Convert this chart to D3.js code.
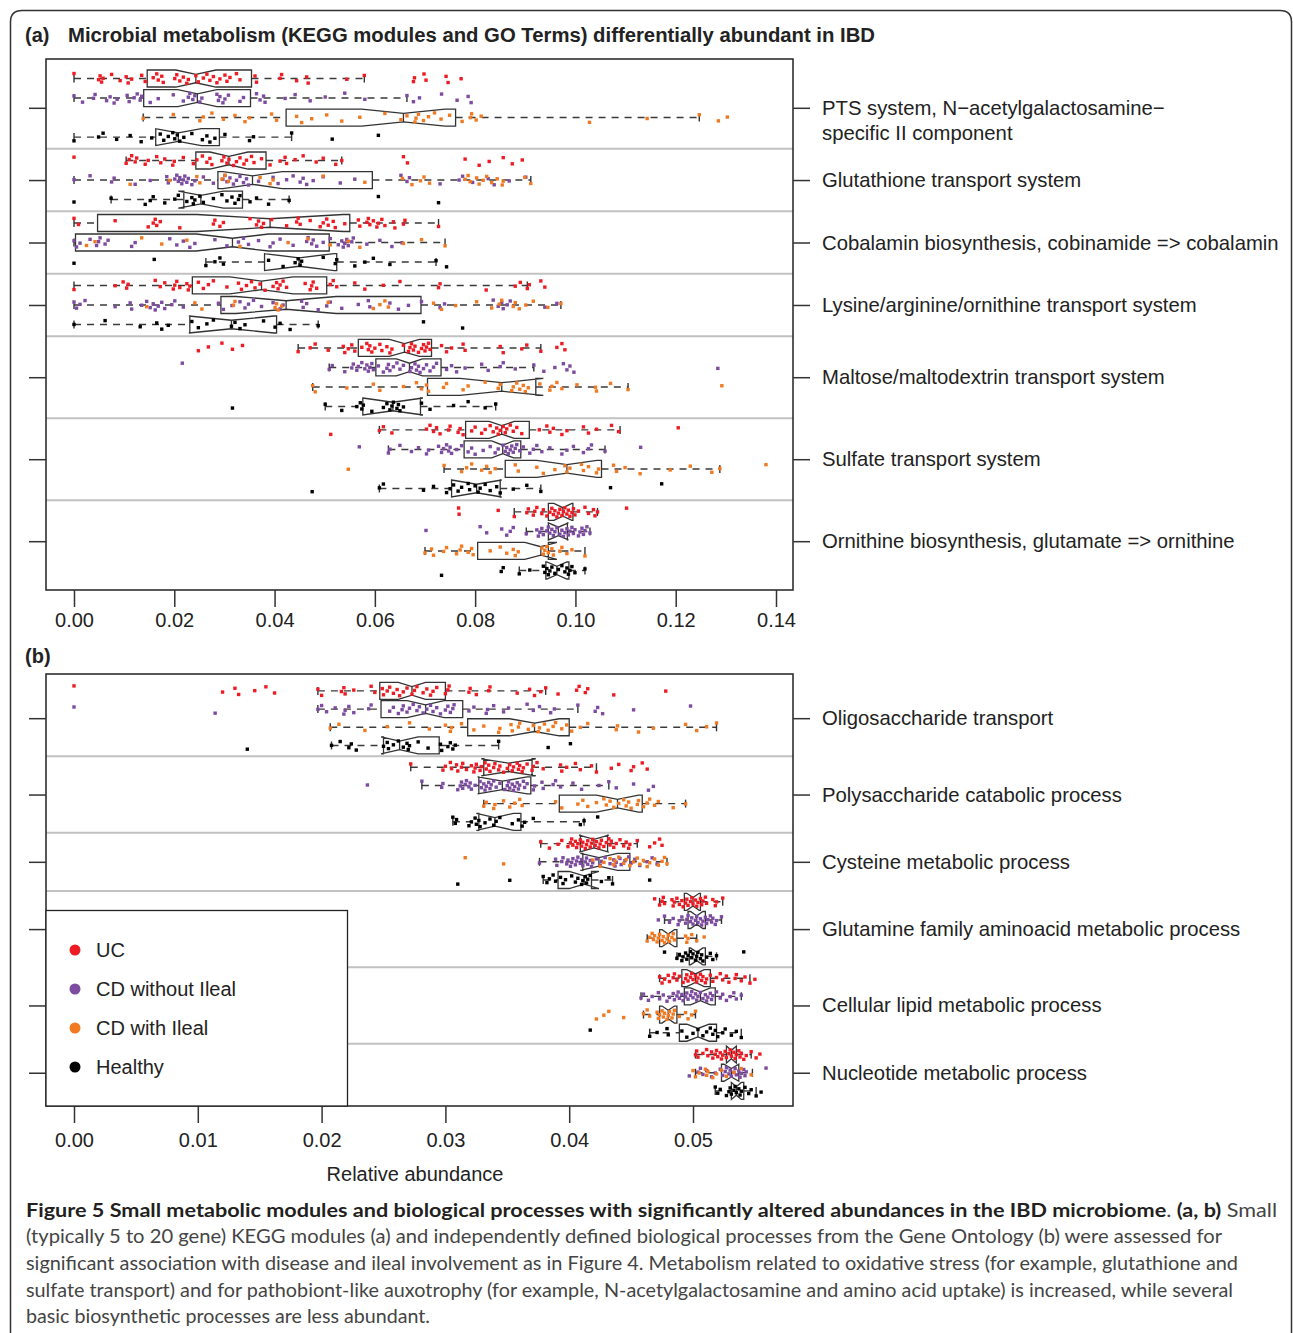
<!DOCTYPE html>
<html>
<head>
<meta charset="utf-8">
<script src="https://cdn.jsdelivr.net/npm/d3@7"></script>
<style>
  body { margin: 0; background: #fff; }
  svg text { font-family: "Liberation Sans", Arial, Helvetica, sans-serif; }
</style>
</head>
<body>
<svg id="fig" width="1293" height="1333"></svg>
<script>
// Cohorts (legend order)
const cohorts = ["UC", "CD without Ileal", "CD with Ileal", "Healthy"];

// ---------- Panel (a): KEGG modules ----------
const modulesA = [
  "PTS system, N\u2212acetylgalactosamine\u2212\nspecific II component",
  "Glutathione transport system",
  "Cobalamin biosynthesis, cobinamide => cobalamin",
  "Lysine/arginine/ornithine transport system",
  "Maltose/maltodextrin transport system",
  "Sulfate transport system",
  "Ornithine biosynthesis, glutamate => ornithine"
];
const ticksA = [0, 0.02, 0.04, 0.06, 0.08, 0.10, 0.12, 0.14];
// [module, cohorts drawn in the row]
const rowsA = [
  [0, [0]], [0, [1]], [0, [2]], [0, [3]],
  [1, [0]], [1, [1, 2]], [1, [3]],
  [2, [0]], [2, [1, 2]], [2, [3]],
  [3, [0]], [3, [1, 2]], [3, [3]],
  [4, [0]], [4, [1]], [4, [2]], [4, [3]],
  [5, [0]], [5, [1]], [5, [2]], [5, [3]],
  [6, [0]], [6, [1]], [6, [2]], [6, [3]]
];
// [whisker low, Q1, median, Q3, whisker high, notch half-width]
const boxesA = [
  [0.0, 0.0146, 0.0243, 0.0354, 0.0579, 0.0040],
  [0.0, 0.0139, 0.0246, 0.0352, 0.0664, 0.0039],
  [0.0138, 0.0423, 0.0657, 0.0761, 0.1247, 0.0083],
  [0.0, 0.0163, 0.0208, 0.0290, 0.0434, 0.0046],
  [0.0104, 0.0243, 0.0309, 0.0383, 0.0534, 0.0038],
  [0.0, 0.0287, 0.0356, 0.0595, 0.0911, 0.0059],
  [0.0074, 0.0219, 0.0253, 0.0336, 0.0429, 0.0045],
  [0.0, 0.0047, 0.0391, 0.0550, 0.0727, 0.0146],
  [0.0, 0.0003, 0.0316, 0.0509, 0.0740, 0.0072],
  [0.0263, 0.0380, 0.0449, 0.0524, 0.0722, 0.0070],
  [0.0, 0.0236, 0.0374, 0.0504, 0.0904, 0.0063],
  [0.0, 0.0293, 0.0423, 0.0692, 0.0971, 0.0100],
  [0.0, 0.0231, 0.0314, 0.0404, 0.0487, 0.0085],
  [0.0447, 0.0567, 0.0659, 0.0713, 0.0931, 0.0030],
  [0.0509, 0.0602, 0.0669, 0.0732, 0.0917, 0.0026],
  [0.0476, 0.0705, 0.0853, 0.0921, 0.1105, 0.0083],
  [0.0501, 0.0576, 0.0636, 0.0691, 0.0841, 0.0060],
  [0.0609, 0.0781, 0.0853, 0.0908, 0.1089, 0.0025],
  [0.0627, 0.0778, 0.0855, 0.0891, 0.1059, 0.0022],
  [0.0738, 0.0860, 0.0983, 0.1052, 0.1288, 0.0060],
  [0.0609, 0.0753, 0.0803, 0.0850, 0.0931, 0.0050],
  [0.0878, 0.0946, 0.0975, 0.0995, 0.1044, 0.0018],
  [0.0902, 0.0946, 0.0966, 0.0984, 0.1029, 0.0020],
  [0.0700, 0.0805, 0.0931, 0.0946, 0.1019, 0.0032],
  [0.0888, 0.0941, 0.0963, 0.0987, 0.1019, 0.0020]
];
// sample values per row, one list per cohort in the row
const pointsA = [
  [[0,0.0049,0.0052,0.0055,0.0058,0.0075,0.0092,0.0104,0.0108,0.0115,0.0135,0.0142,0.0158,0.0165,0.0168,0.0175,0.0178,0.0201,0.0205,0.0211,0.0218,0.0225,0.0228,0.0243,0.0248,0.0258,0.0265,0.0271,0.0278,0.0285,0.0291,0.0301,0.0305,0.0311,0.0324,0.0331,0.0361,0.0364,0.0411,0.0414,0.0444,0.0464,0.0467,0.0544,0.0579,0.0677,0.0679,0.0698,0.0702,0.0742,0.0746,0.0772]],
  [[0,0.0017,0.0039,0.0042,0.0065,0.0072,0.008,0.0086,0.0106,0.011,0.012,0.0126,0.0132,0.0135,0.0152,0.0168,0.0198,0.0218,0.0228,0.0231,0.0237,0.0241,0.0251,0.0255,0.0285,0.0288,0.0291,0.0297,0.0301,0.0308,0.0331,0.0338,0.0364,0.0371,0.0378,0.0381,0.0421,0.0441,0.0471,0.0501,0.054,0.058,0.0664,0.0677,0.0689,0.0733,0.0764,0.0786,0.0792]],
  [[0.0138,0.0198,0.0251,0.0258,0.0275,0.0298,0.0321,0.0341,0.035,0.0394,0.0404,0.0444,0.0454,0.0474,0.0504,0.0534,0.057,0.062,0.0652,0.0664,0.068,0.0682,0.0687,0.0697,0.0707,0.0719,0.0732,0.0749,0.0774,0.0791,0.0793,0.0802,0.0812,0.1028,0.1143,0.1247,0.1285,0.1303]],
  [[0,0.0049,0.0058,0.0085,0.0112,0.0134,0.0155,0.0172,0.0179,0.0188,0.0197,0.0201,0.0206,0.0211,0.0219,0.0235,0.0256,0.0265,0.0271,0.0281,0.0301,0.035,0.0358,0.0434,0.0515,0.0607]],
  [[0,0.0104,0.011,0.0115,0.0122,0.0125,0.0142,0.0148,0.0165,0.0173,0.0181,0.0197,0.02,0.0218,0.0238,0.0245,0.0256,0.0265,0.0271,0.0275,0.0295,0.0299,0.0305,0.0309,0.0318,0.0324,0.0331,0.0339,0.0344,0.0354,0.0359,0.0374,0.0391,0.0411,0.0421,0.0424,0.0441,0.0457,0.0483,0.0497,0.0522,0.0534,0.0657,0.0665,0.078,0.0808,0.0828,0.0856,0.0874,0.0894]],
  [[0,0.0032,0.0075,0.008,0.0122,0.0152,0.0185,0.0188,0.0201,0.0205,0.0208,0.0211,0.0215,0.0218,0.0221,0.0225,0.0228,0.0235,0.0241,0.0258,0.0278,0.0297,0.0301,0.0305,0.0311,0.0318,0.0324,0.0331,0.0338,0.0344,0.0348,0.0368,0.0397,0.0407,0.0424,0.0437,0.0451,0.0457,0.0464,0.0477,0.0497,0.0531,0.056,0.0652,0.0664,0.0669,0.073,0.0768,0.0775,0.0795,0.0826,0.0838,0.0868,0.0901],
   [0.0112,0.0191,0.0245,0.0251,0.0295,0.0301,0.0308,0.0371,0.0391,0.0397,0.0497,0.058,0.0655,0.0674,0.0691,0.0698,0.0709,0.078,0.0786,0.079,0.0803,0.0808,0.0816,0.0823,0.0833,0.0844,0.0854,0.0856,0.0899,0.0911]],
  [[0,0.0074,0.0142,0.0152,0.0158,0.0181,0.0201,0.0208,0.0225,0.0235,0.0238,0.0241,0.0251,0.0258,0.0278,0.0295,0.0305,0.0315,0.0321,0.0328,0.0331,0.0351,0.0364,0.0388,0.0429,0.0607,0.0727]],
  [[0,0.0009,0.0082,0.0148,0.0158,0.0162,0.0165,0.0172,0.0211,0.0278,0.0281,0.0291,0.0298,0.0351,0.0364,0.0368,0.0374,0.0378,0.0394,0.0424,0.0444,0.0447,0.0451,0.0471,0.0491,0.0497,0.0504,0.0507,0.0517,0.0521,0.054,0.0567,0.057,0.0584,0.0587,0.059,0.0597,0.0604,0.0607,0.0614,0.062,0.0637,0.064,0.0657,0.066,0.0727]],
  [[0,0.0005,0.0012,0.0032,0.0045,0.0049,0.0052,0.0062,0.0068,0.0115,0.0122,0.0191,0.0205,0.0218,0.0231,0.0241,0.0281,0.0305,0.0328,0.0338,0.0348,0.0368,0.0391,0.0397,0.0411,0.0437,0.0464,0.0467,0.0474,0.0477,0.0484,0.0497,0.0511,0.0527,0.0534,0.0537,0.054,0.0544,0.0547,0.0554,0.0557,0.0584,0.061,0.0634,0.0654],
   [0.0025,0.0042,0.0135,0.0175,0.0225,0.0331,0.0427,0.0467,0.0511,0.0547,0.057,0.0657,0.0693,0.074]],
  [[0,0.016,0.0263,0.0281,0.0291,0.0298,0.0388,0.0417,0.0441,0.0447,0.0451,0.0454,0.0497,0.0521,0.0524,0.056,0.058,0.0597,0.063,0.0722,0.0743]],
  [[0,0.0082,0.0098,0.0105,0.0108,0.0162,0.0172,0.0181,0.0198,0.0201,0.0205,0.0211,0.0225,0.0228,0.0231,0.0248,0.0258,0.0268,0.0278,0.0305,0.0328,0.0334,0.0344,0.0354,0.0361,0.0371,0.0381,0.0397,0.0404,0.0407,0.0411,0.0417,0.0424,0.0461,0.0471,0.0474,0.0477,0.0484,0.0511,0.0517,0.0524,0.056,0.058,0.0617,0.065,0.0727,0.073,0.0822,0.088,0.089,0.0904,0.0908,0.0931,0.0939]],
  [[0,0.0005,0.0012,0.0022,0.0082,0.0112,0.0115,0.0135,0.0145,0.0152,0.0158,0.0162,0.0168,0.0175,0.0181,0.0195,0.0201,0.0218,0.0288,0.0298,0.0315,0.0331,0.0341,0.0348,0.0358,0.0374,0.0397,0.0411,0.0417,0.0454,0.0457,0.0464,0.0487,0.0504,0.0511,0.0534,0.0567,0.0587,0.059,0.063,0.0647,0.0667,0.0693,0.073,0.0739,0.0836,0.0846,0.0853,0.0856,0.0864,0.087,0.0939,0.0963],
   [0.0145,0.0241,0.0255,0.0318,0.0321,0.0401,0.0404,0.0407,0.0414,0.0507,0.0597,0.061,0.062,0.0627,0.0717,0.0733,0.0761,0.0803,0.0833,0.0848,0.0853,0.0876,0.088,0.0888,0.0901,0.0916,0.0945,0.0971]],
  [[0,0.0062,0.0132,0.0165,0.0175,0.0188,0.0235,0.0248,0.0265,0.0278,0.0314,0.0321,0.0331,0.0341,0.0378,0.0401,0.0411,0.0431,0.0487,0.0697,0.0775]],
  [[0.0248,0.0268,0.0295,0.0316,0.0336,0.0447,0.0471,0.0481,0.0507,0.0537,0.054,0.0547,0.0554,0.056,0.0574,0.0584,0.0587,0.059,0.0594,0.06,0.061,0.0614,0.0624,0.063,0.0634,0.0657,0.0667,0.067,0.0673,0.0677,0.068,0.0687,0.0693,0.0697,0.07,0.0703,0.0707,0.071,0.0733,0.0743,0.0753,0.0776,0.078,0.085,0.0856,0.0893,0.0903,0.0931,0.0963,0.0973,0.0979]],
  [[0.0216,0.0509,0.0515,0.054,0.0554,0.0557,0.0564,0.0567,0.0574,0.058,0.0584,0.0587,0.059,0.0594,0.0597,0.0607,0.0617,0.0624,0.0627,0.063,0.0637,0.0644,0.065,0.0657,0.067,0.0673,0.068,0.0683,0.0687,0.069,0.0697,0.0703,0.071,0.0717,0.0723,0.0743,0.0753,0.0763,0.078,0.0813,0.0826,0.085,0.0856,0.088,0.0917,0.0937,0.0959,0.0976,0.0983,0.0989,0.0997,0.1284]],
  [[0.0476,0.0481,0.0544,0.0597,0.061,0.0657,0.0683,0.0693,0.0703,0.0707,0.0737,0.0743,0.0776,0.0786,0.082,0.0846,0.085,0.0873,0.0876,0.0883,0.0889,0.0896,0.09,0.0906,0.0929,0.0949,0.0953,0.0963,0.0973,0.1003,0.1042,0.104,0.107,0.1105,0.1292]],
  [[0.0316,0.0501,0.0534,0.0564,0.0571,0.0574,0.0577,0.0594,0.0617,0.0624,0.063,0.0634,0.0637,0.0644,0.0647,0.065,0.0657,0.0693,0.071,0.0757,0.0786,0.082,0.0841]],
  [[0.0512,0.0609,0.0617,0.0634,0.0703,0.071,0.0717,0.0723,0.073,0.0747,0.075,0.0766,0.077,0.0776,0.0793,0.08,0.0813,0.082,0.083,0.0836,0.0843,0.0846,0.085,0.0856,0.086,0.0863,0.087,0.0876,0.0883,0.0893,0.0928,0.0943,0.0949,0.0956,0.0973,0.0983,0.1016,0.1026,0.1042,0.1072,0.1086,0.1205]],
  [[0.0569,0.0627,0.063,0.065,0.0673,0.0687,0.0703,0.0707,0.0727,0.0733,0.0737,0.0743,0.0747,0.075,0.0753,0.0763,0.0773,0.0786,0.0793,0.08,0.0816,0.083,0.084,0.0846,0.0856,0.086,0.0863,0.0866,0.087,0.0873,0.0876,0.088,0.0883,0.0889,0.0896,0.0909,0.0916,0.0923,0.0933,0.0949,0.0973,0.0983,0.0996,0.1016,0.1026,0.1032,0.1059,0.113]],
  [[0.0547,0.0738,0.0773,0.0783,0.0793,0.0813,0.0823,0.083,0.084,0.088,0.0886,0.0923,0.0936,0.0959,0.0979,0.0983,0.0989,0.1012,0.1016,0.1026,0.1042,0.1046,0.1076,0.1082,0.1099,0.1129,0.1189,0.1229,0.1272,0.1288,0.138]],
  [[0.0475,0.0609,0.0617,0.0697,0.0717,0.0743,0.075,0.0757,0.0766,0.0773,0.0786,0.0789,0.08,0.0806,0.081,0.082,0.083,0.0843,0.085,0.0876,0.0903,0.0931,0.107,0.1172]],
  [[0.0767,0.0768,0.0846,0.0878,0.0903,0.0906,0.0916,0.0919,0.0923,0.0933,0.0936,0.0943,0.0949,0.0953,0.0956,0.0959,0.0963,0.0966,0.0969,0.0973,0.0976,0.0979,0.0983,0.0986,0.0989,0.0993,0.0996,0.0999,0.1006,0.1019,0.1026,0.1036,0.1039,0.1044,0.1102]],
  [[0.0702,0.081,0.0823,0.0853,0.0863,0.087,0.0876,0.0902,0.0923,0.0926,0.0929,0.0933,0.0936,0.0943,0.0946,0.0949,0.0953,0.0956,0.0959,0.0963,0.0969,0.0973,0.0976,0.0979,0.0983,0.0986,0.0989,0.0993,0.0996,0.0999,0.1006,0.1009,0.1013,0.1016,0.1019,0.1023,0.1029]],
  [[0.07,0.0713,0.0717,0.0737,0.0743,0.0763,0.077,0.0773,0.0786,0.0793,0.0796,0.083,0.085,0.0863,0.0876,0.088,0.0886,0.0933,0.0936,0.0939,0.0943,0.0946,0.0953,0.0956,0.0969,0.0973,0.0983,0.0993,0.1019]],
  [[0.0733,0.0852,0.0856,0.0888,0.0909,0.0936,0.0939,0.0943,0.0946,0.0949,0.0953,0.0959,0.0966,0.0973,0.0979,0.0983,0.0986,0.0989,0.0993,0.0999,0.1019]]
];

// ---------- Panel (b): GO terms ----------
const modulesB = [
  "Oligosaccharide transport",
  "Polysaccharide catabolic process",
  "Cysteine metabolic process",
  "Glutamine family aminoacid metabolic process",
  "Cellular lipid metabolic process",
  "Nucleotide metabolic process"
];
const ticksB = [0, 0.01, 0.02, 0.03, 0.04, 0.05];
const rowsB = [
  [0, [0]], [0, [1]], [0, [2]], [0, [3]],
  [1, [0]], [1, [1]], [1, [2]], [1, [3]],
  [2, [0]], [2, [1, 2]], [2, [3]],
  [3, [0]], [3, [1]], [3, [2]], [3, [3]],
  [4, [0]], [4, [1]], [4, [2]], [4, [3]],
  [5, [0]], [5, [1, 2]], [5, [3]]
];
const boxesB = [
  [0.0197, 0.0247, 0.0273, 0.0300, 0.0381, 0.0011],
  [0.0197, 0.0248, 0.0284, 0.0314, 0.0407, 0.0015],
  [0.0207, 0.0318, 0.0372, 0.0400, 0.0519, 0.0020],
  [0.0208, 0.0250, 0.0263, 0.0295, 0.0343, 0.0015],
  [0.0272, 0.0331, 0.0351, 0.0370, 0.0422, 0.0022],
  [0.0281, 0.0327, 0.0346, 0.0369, 0.0432, 0.0020],
  [0.0331, 0.0392, 0.0439, 0.0459, 0.0494, 0.0017],
  [0.0306, 0.0327, 0.0340, 0.0361, 0.0412, 0.0015],
  [0.0377, 0.0409, 0.0420, 0.0431, 0.0455, 0.0012],
  [0.0376, 0.0411, 0.0424, 0.0449, 0.0479, 0.0015],
  [0.0379, 0.0391, 0.0412, 0.0418, 0.0435, 0.0012],
  [0.0473, 0.0493, 0.0500, 0.0506, 0.0524, 0.0005],
  [0.0477, 0.0496, 0.0503, 0.0510, 0.0523, 0.0005],
  [0.0463, 0.0473, 0.0480, 0.0487, 0.0503, 0.0005],
  [0.0487, 0.0497, 0.0503, 0.0510, 0.0519, 0.0005],
  [0.0473, 0.0491, 0.0502, 0.0514, 0.0546, 0.0007],
  [0.0458, 0.0493, 0.0506, 0.0518, 0.0539, 0.0008],
  [0.0460, 0.0473, 0.0480, 0.0487, 0.0502, 0.0005],
  [0.0465, 0.0489, 0.0504, 0.0519, 0.0539, 0.0009],
  [0.0502, 0.0527, 0.0531, 0.0535, 0.0547, 0.0004],
  [0.0502, 0.0523, 0.0531, 0.0537, 0.0548, 0.0006],
  [0.0518, 0.0531, 0.0535, 0.0541, 0.0551, 0.0004]
];
const pointsB = [
  [[0,0.012,0.013,0.0133,0.0146,0.0155,0.0162,0.0197,0.02,0.0216,0.0218,0.0219,0.0226,0.024,0.0243,0.0249,0.025,0.0253,0.0255,0.0258,0.0261,0.0263,0.0266,0.0269,0.0273,0.0275,0.0277,0.0282,0.0285,0.0288,0.029,0.0293,0.03,0.0302,0.0303,0.0319,0.032,0.0325,0.0335,0.0336,0.0358,0.0368,0.0372,0.0377,0.0381,0.0391,0.0406,0.0408,0.0413,0.0415,0.0436,0.0478]],
  [[0,0.0114,0.0197,0.02,0.0204,0.0211,0.0218,0.0219,0.0222,0.0226,0.0238,0.024,0.0255,0.0258,0.0262,0.0265,0.0266,0.0269,0.0271,0.0274,0.0277,0.0279,0.0282,0.0285,0.0288,0.029,0.0293,0.0296,0.03,0.0302,0.0304,0.0306,0.0307,0.0319,0.0323,0.0333,0.0334,0.0339,0.0347,0.0351,0.0366,0.0371,0.0376,0.0385,0.0388,0.0407,0.0421,0.0423,0.0427,0.0452,0.0498]],
  [[0.0207,0.0214,0.0235,0.0253,0.0271,0.0287,0.03,0.0304,0.0305,0.0313,0.0323,0.0331,0.0343,0.0344,0.0353,0.0354,0.0359,0.036,0.0367,0.0371,0.0375,0.0376,0.038,0.0383,0.0387,0.0389,0.0394,0.0398,0.0402,0.0409,0.0415,0.0438,0.0439,0.0456,0.0468,0.0494,0.0503,0.0511,0.0519]],
  [[0.014,0.0208,0.0215,0.0222,0.0224,0.0228,0.025,0.0253,0.0254,0.0258,0.0262,0.0266,0.0269,0.027,0.0271,0.0278,0.0286,0.0296,0.0297,0.0302,0.0304,0.0306,0.0308,0.0343,0.0383,0.0401]],
  [[0.0272,0.0298,0.03,0.0304,0.0305,0.0309,0.031,0.0313,0.0314,0.0317,0.0321,0.0323,0.0324,0.0325,0.0328,0.0329,0.0332,0.0333,0.0335,0.0336,0.0339,0.034,0.0343,0.0344,0.0347,0.035,0.0352,0.0354,0.0355,0.0358,0.0359,0.036,0.0362,0.0363,0.0366,0.037,0.0371,0.0374,0.0379,0.0393,0.0394,0.0398,0.0405,0.0409,0.0418,0.0422,0.0434,0.044,0.045,0.0452,0.0459,0.0463]],
  [[0.0237,0.0281,0.0297,0.0298,0.031,0.0312,0.0313,0.0314,0.0316,0.0317,0.0319,0.032,0.0321,0.0324,0.0328,0.0329,0.0331,0.0332,0.0333,0.0335,0.0336,0.0337,0.0339,0.0341,0.0344,0.0348,0.035,0.0351,0.0352,0.0354,0.0355,0.0356,0.0358,0.0359,0.036,0.0363,0.0364,0.0366,0.0371,0.0372,0.0378,0.0379,0.0387,0.0389,0.0393,0.0403,0.041,0.0424,0.0432,0.0438,0.0452,0.0464,0.0468]],
  [[0.0331,0.0333,0.0339,0.034,0.0347,0.0352,0.0356,0.036,0.0362,0.0389,0.0394,0.0407,0.0411,0.0415,0.0422,0.0428,0.043,0.0433,0.0436,0.044,0.0444,0.0446,0.0448,0.045,0.0455,0.0456,0.046,0.0463,0.0465,0.0469,0.0472,0.0484,0.0494]],
  [[0.0306,0.0308,0.0309,0.0319,0.0321,0.0324,0.0325,0.0327,0.0328,0.0332,0.0336,0.0339,0.0341,0.0344,0.0354,0.0359,0.0362,0.0364,0.0371,0.0409,0.0412,0.0423]],
  [[0.0377,0.0384,0.0391,0.0394,0.0399,0.0401,0.0402,0.0403,0.0405,0.0406,0.0407,0.0409,0.041,0.0411,0.0413,0.0414,0.0415,0.0417,0.0418,0.0419,0.0421,0.0422,0.0424,0.0425,0.0426,0.0428,0.043,0.0432,0.0433,0.0434,0.0436,0.0438,0.0441,0.0444,0.0446,0.0448,0.0449,0.0455,0.0465,0.0469,0.0473,0.0475]],
  [[0.0376,0.0389,0.039,0.0394,0.0395,0.0398,0.0399,0.0401,0.0402,0.0403,0.0405,0.0406,0.0407,0.0409,0.041,0.0411,0.0413,0.0414,0.0415,0.0417,0.0418,0.0419,0.0422,0.0425,0.0426,0.0429,0.0433,0.0436,0.0437,0.0438,0.0441,0.0442,0.0445,0.0448,0.045,0.0453,0.0457,0.0463,0.0467,0.0471],
   [0.0316,0.0347,0.0419,0.0425,0.0428,0.0433,0.0436,0.0437,0.044,0.0444,0.0446,0.0449,0.0452,0.0455,0.0457,0.046,0.0463,0.0465,0.0469,0.0472,0.0475,0.0477,0.0479]],
  [[0.031,0.0352,0.0379,0.0382,0.0384,0.0387,0.0389,0.0393,0.0395,0.0397,0.0402,0.0405,0.0407,0.041,0.0411,0.0413,0.0414,0.0415,0.0417,0.0426,0.0432,0.0435,0.0465]],
  [[0.0469,0.0473,0.0475,0.0476,0.0477,0.0483,0.0484,0.0485,0.0487,0.0489,0.0491,0.0492,0.0494,0.0495,0.0496,0.0498,0.0499,0.05,0.0502,0.0503,0.0504,0.0506,0.0507,0.0508,0.051,0.0511,0.0516,0.0518,0.0519,0.0524]],
  [[0.0472,0.0477,0.0481,0.0484,0.0488,0.0489,0.0491,0.0494,0.0495,0.0496,0.0498,0.0499,0.05,0.0502,0.0503,0.0504,0.0506,0.0507,0.0508,0.051,0.0511,0.0512,0.0514,0.0515,0.0516,0.0518,0.0519,0.0523]],
  [[0.0463,0.0465,0.0467,0.0468,0.0469,0.0471,0.0472,0.0473,0.0475,0.0476,0.0477,0.0479,0.048,0.0481,0.0483,0.0484,0.0485,0.0494,0.0495,0.0496,0.0499,0.0503,0.0509]],
  [[0.0477,0.0487,0.0489,0.0491,0.0492,0.0494,0.0495,0.0496,0.0498,0.0499,0.05,0.0502,0.0503,0.0504,0.0506,0.0507,0.0508,0.0511,0.0514,0.0516,0.0519,0.0541]],
  [[0.0473,0.0475,0.0477,0.048,0.0481,0.0484,0.0485,0.0487,0.0489,0.0492,0.0494,0.0495,0.0496,0.0498,0.0499,0.05,0.0502,0.0503,0.0504,0.0506,0.0507,0.0508,0.051,0.0511,0.0514,0.0516,0.0519,0.0522,0.0524,0.0527,0.0529,0.0534,0.0535,0.0539,0.0542,0.0546,0.055]],
  [[0.0458,0.046,0.0464,0.0467,0.0472,0.0473,0.0476,0.0479,0.0481,0.0484,0.0485,0.0487,0.0488,0.0489,0.0491,0.0492,0.0494,0.0495,0.0496,0.0498,0.0499,0.05,0.0502,0.0503,0.0504,0.0506,0.0508,0.051,0.0511,0.0512,0.0514,0.0515,0.0516,0.0519,0.0522,0.0524,0.0527,0.053,0.0533,0.0535,0.0539]],
  [[0.0422,0.0428,0.0432,0.0444,0.046,0.0463,0.0465,0.0471,0.0472,0.0473,0.0475,0.0476,0.0477,0.0479,0.048,0.0481,0.0483,0.0484,0.0485,0.0489,0.0494,0.0496,0.0499,0.0502]],
  [[0.0417,0.0465,0.0471,0.0479,0.048,0.0491,0.0495,0.05,0.0504,0.0508,0.0511,0.0514,0.0516,0.0518,0.052,0.0524,0.0526,0.0531,0.0535,0.0539]],
  [[0.0502,0.0503,0.0504,0.0508,0.0511,0.0512,0.0515,0.0516,0.0518,0.0519,0.052,0.0522,0.0523,0.0524,0.0526,0.0527,0.0529,0.053,0.0531,0.0533,0.0534,0.0535,0.0537,0.0538,0.0539,0.0541,0.0543,0.0547,0.0551,0.0554]],
  [[0.0497,0.0504,0.0506,0.0508,0.0511,0.0515,0.0518,0.0522,0.0524,0.0526,0.0527,0.0529,0.053,0.0531,0.0533,0.0534,0.0535,0.0537,0.0538,0.0539,0.0541,0.0542,0.0543,0.0559],
   [0.05,0.0502,0.0505,0.051,0.0511,0.0512,0.0516,0.0519,0.0523,0.0527,0.0533,0.0539,0.0547]],
  [[0.0518,0.052,0.0522,0.0527,0.0529,0.053,0.0531,0.0533,0.0534,0.0535,0.0537,0.0538,0.0539,0.0542,0.0545,0.0547,0.0551,0.0555]]
];

const colors = ["#ED1C24", "#7D4BA0", "#F07922", "#000000"];
const svg = d3.select("#fig");

// figure frame (rounded top corners)
svg.append("path")
  .attr("d", "M10.5,1333 V22 Q10.5,10.5 22,10.5 H1280 Q1291.5,10.5 1291.5,22 V1333")
  .attr("fill", "none").attr("stroke", "#333").attr("stroke-width", 1.5);

// vertical jitter offset, spread evenly with the golden ratio
const jitter = (j, i, s) => (((j * 0.618034 + i * 0.291 + s * 0.47) % 1) - 0.5) * 10;

function drawPanel(p) {
  const x = d3.scaleLinear().domain(p.xDomain).range(p.xRange);
  const pos = p.rows.map((r, i) => i + 0.2 * r[0]);
  const y = d3.scaleLinear().domain([p.pad0, d3.max(pos) + p.pad1]).range([p.top, p.bottom]);
  const g = svg.append("g");
  const nGroups = p.modules.length;

  // group separators
  for (let k = 1; k < nGroups; k++) {
    const first = p.rows.findIndex(r => r[0] === k);
    const mid = (pos[first] + pos[first - 1]) / 2;
    g.append("line")
      .attr("x1", p.left).attr("x2", p.right)
      .attr("y1", y(mid)).attr("y2", y(mid))
      .attr("stroke", "#c2c2c2").attr("stroke-width", 2);
  }

  const h = p.boxH / 2;
  p.boxes.forEach((b, i) => {
    const yc = y(pos[i]);
    const [lo, q1, med, q3, hi, nw] = b;
    // whiskers
    [[lo, q1], [q3, hi]].forEach(([a, c]) => {
      g.append("line").attr("x1", x(a)).attr("x2", x(c)).attr("y1", yc).attr("y2", yc)
        .attr("stroke", "#3a3a3a").attr("stroke-width", 1.4).attr("stroke-dasharray", "7,6");
    });
    [lo, hi].forEach(v => {
      g.append("line").attr("x1", x(v)).attr("x2", x(v)).attr("y1", yc - 4).attr("y2", yc + 4)
        .attr("stroke", "#333").attr("stroke-width", 1.4);
    });
    // notched box (R style polygon)
    const poly = [
      [x(q1), yc - h], [x(med - nw), yc - h], [x(med), yc - h / 2], [x(med + nw), yc - h], [x(q3), yc - h],
      [x(q3), yc + h], [x(med + nw), yc + h], [x(med), yc + h / 2], [x(med - nw), yc + h], [x(q1), yc + h]
    ];
    g.append("polygon").attr("points", poly.map(d => d.join(",")).join(" "))
      .attr("fill", "none").attr("stroke", "#333").attr("stroke-width", 1.3);
    g.append("line").attr("x1", x(med)).attr("x2", x(med)).attr("y1", yc - h / 2).attr("y2", yc + h / 2)
      .attr("stroke", "#333").attr("stroke-width", 1.3);
  });

  // jittered sample points
  p.points.forEach((sets, i) => {
    const yc = y(pos[i]);
    sets.forEach((vals, s) => {
      const c = p.rows[i][1][s];
      g.selectAll(null).data(vals).enter().append("rect")
        .attr("x", d => x(d) - 1.7)
        .attr("y", (d, j) => yc - 1.7 + jitter(j, i, s))
        .attr("width", 3.4).attr("height", 3.4)
        .attr("fill", colors[c]);
    });
  });

  // frame
  g.append("rect").attr("x", p.left).attr("y", p.top)
    .attr("width", p.right - p.left).attr("height", p.bottom - p.top)
    .attr("fill", "none").attr("stroke", "#222").attr("stroke-width", 1.5);

  // axes
  const centers = d3.range(nGroups).map(k => d3.mean(pos.filter((v, i) => p.rows[i][0] === k)));

  const xa = g.append("g").attr("transform", `translate(0,${p.bottom})`)
    .call(d3.axisBottom(x).tickValues(p.ticks).tickFormat(d3.format(".2f")).tickSize(17).tickPadding(p.tickPad).tickSizeOuter(0));
  xa.select(".domain").remove();
  xa.selectAll("line").attr("stroke", "#333").attr("stroke-width", 1.5);
  xa.selectAll("text").attr("font-size", 20).attr("fill", "#222").style("font-family", '"Liberation Sans", Arial, sans-serif');

  const la = g.append("g").attr("transform", `translate(${p.left},0)`)
    .call(d3.axisLeft(y).tickValues(centers).tickFormat("").tickSize(17).tickSizeOuter(0));
  la.select(".domain").remove();
  la.selectAll("line").attr("stroke", "#333").attr("stroke-width", 1.5);

  const ra = g.append("g").attr("transform", `translate(${p.right},0)`)
    .call(d3.axisRight(y).tickValues(centers).tickFormat((d, i) => p.modules[i]).tickSize(17).tickPadding(12).tickSizeOuter(0));
  ra.select(".domain").remove();
  ra.selectAll("line").attr("stroke", "#333").attr("stroke-width", 1.5);
  ra.selectAll("text").attr("font-size", 20.3).attr("fill", "#222")
    .style("font-family", '"Liberation Sans", Arial, sans-serif')
    .each(function (d, i) {
      const lines = p.modules[i].split("\n");
      if (lines.length > 1) {
        const t = d3.select(this), tx = t.attr("x");
        t.text(null);
        lines.forEach((l, k) => t.append("tspan").attr("x", tx).attr("dy", k === 0 ? "0.32em" : "1.25em").text(l));
      }
    });
  return { x, y };
}

drawPanel({
  rows: rowsA, boxes: boxesA, points: pointsA, modules: modulesA, ticks: ticksA,
  xDomain: [0, 0.14], xRange: [74, 776], tickPad: 6,
  left: 46, right: 793, top: 59, bottom: 590, pad0: -1, pad1: 1, boxH: 17
});
drawPanel({
  rows: rowsB, boxes: boxesB, points: pointsB, modules: modulesB, ticks: ticksB,
  xDomain: [0, 0.05], xRange: [74, 693], tickPad: 10,
  left: 46, right: 793, top: 674, bottom: 1106, pad0: -0.93, pad1: 0.83, boxH: 17
});

// legend (panel b)
const leg = svg.append("g");
leg.append("rect").attr("x", 46).attr("y", 910.5).attr("width", 301.5).attr("height", 195.5)
  .attr("fill", "#fff").attr("stroke", "#222").attr("stroke-width", 1.3);
cohorts.forEach((c, i) => {
  const cy = 950 + i * 39;
  leg.append("circle").attr("cx", 75).attr("cy", cy).attr("r", 5.5).attr("fill", colors[i]);
  leg.append("text").attr("x", 96).attr("y", cy + 7).attr("font-size", 20).attr("fill", "#222").text(c);
});

// panel titles
const narrow = '"Liberation Sans Narrow", "Arial Narrow", "Liberation Sans", sans-serif';
svg.append("text").attr("x", 25).attr("y", 42).attr("font-size", 20).attr("font-weight", "bold")
  .style("font-family", narrow).attr("fill", "#222").text("(a)");
svg.append("text").attr("x", 68).attr("y", 42).attr("font-size", 20).attr("font-weight", "bold")
  .style("font-family", narrow).attr("fill", "#222")
  .attr("textLength", 807).attr("lengthAdjust", "spacingAndGlyphs")
  .text("Microbial metabolism (KEGG modules and GO Terms) differentially abundant in IBD");
svg.append("text").attr("x", 25).attr("y", 663).attr("font-size", 20).attr("font-weight", "bold")
  .style("font-family", narrow).attr("fill", "#222").text("(b)");

// x axis title
svg.append("text").attr("x", 415).attr("y", 1181).attr("text-anchor", "middle")
  .attr("font-size", 20).attr("fill", "#222").text("Relative abundance");

// caption
const capFont = 'Lato, "Open Sans", sans-serif';
const capLines = [
  { y: 1217, w: 1251, parts: [["Figure 5 Small metabolic modules and biological processes with significantly altered abundances in the IBD microbiome", true], [". ", false], ["(a, b)", true], [" Small", false]] },
  { y: 1243, w: 1196, parts: [["(typically 5 to 20 gene) KEGG modules (a) and independently defined biological processes from the Gene Ontology (b) were assessed for", false]] },
  { y: 1270, w: 1212, parts: [["significant association with disease and ileal involvement as in Figure 4. Metabolism related to oxidative stress (for example, glutathione and", false]] },
  { y: 1297, w: 1207, parts: [["sulfate transport) and for pathobiont-like auxotrophy (for example, N-acetylgalactosamine and amino acid uptake) is increased, while several", false]] },
  { y: 1323, w: 404, parts: [["basic biosynthetic processes are less abundant.", false]] }
];
capLines.forEach(l => {
  const t = svg.append("text").attr("x", 26).attr("y", l.y).attr("font-size", 19)
    .style("font-family", capFont)
    .attr("textLength", l.w).attr("lengthAdjust", "spacingAndGlyphs");
  l.parts.forEach(([s, b]) => {
    t.append("tspan").attr("font-weight", b ? "bold" : "normal")
      .attr("fill", b ? "#231f20" : "#444").text(s);
  });
});
</script>
</body>
</html>
